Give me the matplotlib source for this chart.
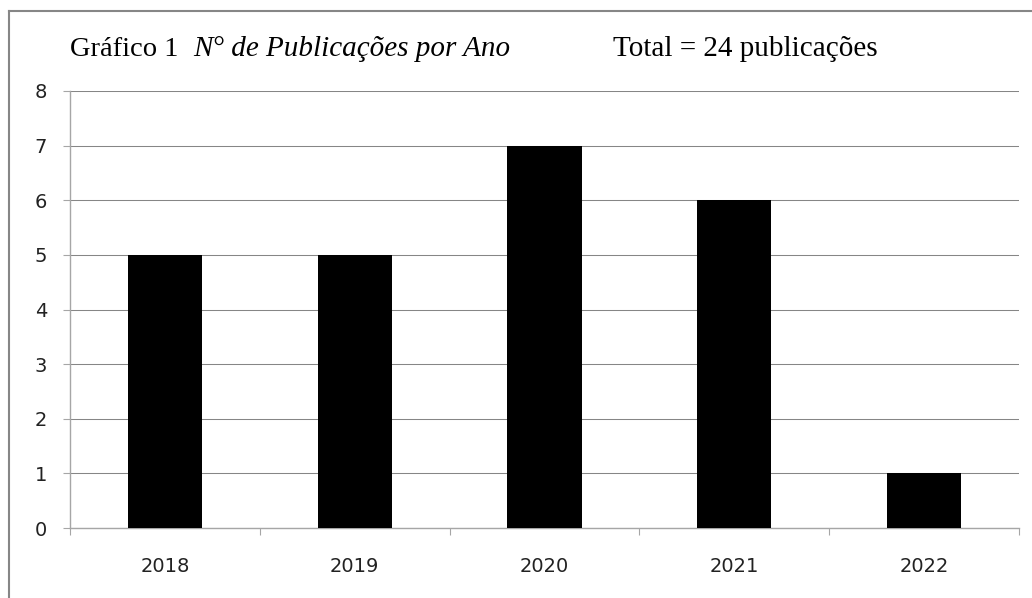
import matplotlib
matplotlib.use('Agg')
import matplotlib.pyplot as plt
from matplotlib.lines import Line2D
import numpy as np

years = ['2018', '2019', '2020', '2021', '2022']
publicacoes = [5, 5, 7, 6, 1]
y_ticks = list(range(0, 9))

W, H = 1032, 598
fig = plt.figure(figsize=(W / 100, H / 100), dpi=100)
fig.patch.set_facecolor('white')


def fx(px):
    return px / W


def fy(py):
    return 1 - py / H


ax = fig.add_axes([fx(70), fy(528), fx(1019) - fx(70), fy(91) - fy(528)])
x = np.arange(len(years))
ax.bar(x, publicacoes, width=0.39, color='black', zorder=3)

ax.set_xlim(-0.5, len(years) - 0.5)
ax.set_ylim(0, 8)
ax.set_yticks(y_ticks)
ax.set_xticks(x)
ax.set_xticklabels(years)
ax.set_xticks(np.arange(-0.5, len(years)), minor=True)

ax.grid(axis='y', color='#868686', lw=0.75, zorder=0)
for s in ['top', 'right']:
    ax.spines[s].set_visible(False)
for s in ['left', 'bottom']:
    ax.spines[s].set_color('#a6a6a6')
    ax.spines[s].set_linewidth(1.0)

ax.tick_params(axis='x', which='major', length=0, pad=21, labelsize=14,
               labelcolor='#222222')
ax.tick_params(axis='x', which='minor', length=5, width=0.8, color='#a6a6a6',
               direction='out')
ax.tick_params(axis='y', length=5, width=0.8, color='#a6a6a6', pad=11.5,
               labelsize=14, labelcolor='#222222')
for lab in ax.get_xticklabels() + ax.get_yticklabels():
    lab.set_fontfamily('DejaVu Sans')

# title line
serif = 'Liberation Serif'
base = fy(56)
fig.text(fx(70), base, 'Gráfico 1', family=serif, fontsize=20.5,
         va='baseline', ha='left')
fig.text(fx(193), base, 'N° de Publicações por Ano', family=serif,
         style='italic', fontsize=21, va='baseline', ha='left')
fig.text(fx(613), base, 'Total = 24 publicações', family=serif, fontsize=21,
         va='baseline', ha='left')

# outer frame (only top and left visible)
fig.add_artist(Line2D([fx(9), fx(9)], [fy(11), 0], color='#868686', lw=1.5,
                      transform=fig.transFigure))
fig.add_artist(Line2D([fx(9), 1], [fy(11), fy(11)], color='#868686', lw=1.5,
                      transform=fig.transFigure))

fig.savefig('out.png', dpi=100)
